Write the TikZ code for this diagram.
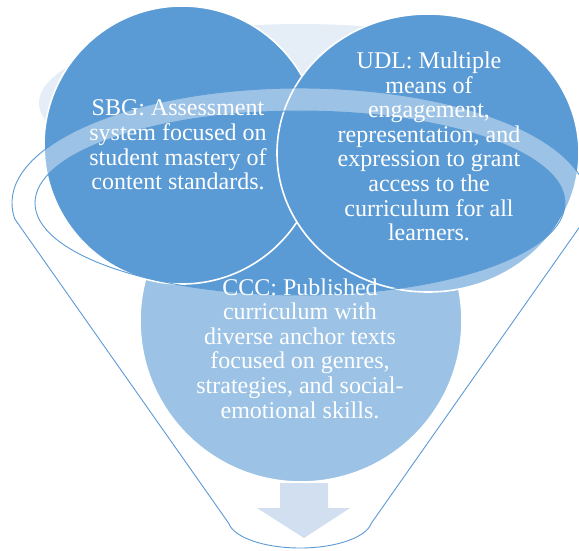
\documentclass[tikz,border=0pt]{standalone}
\usepackage{fontspec}
\usetikzlibrary{shapes.geometric}
\setmainfont{Liberation Serif}
\definecolor{accent}{HTML}{5B9BD5}
\definecolor{pale}{HTML}{E5EDF7}
\definecolor{arrowc}{HTML}{D1DFF0}
\tikzset{
  circ/.style={ellipse, fill=accent, draw=white, line width=1.6pt, inner sep=0pt},
  txt/.style={text=white, align=center, inner sep=0pt, font=\fontsize{24}{24.6}\selectfont},
  rim/.style={draw=accent, line width=0.9pt}
}
\begin{document}
\begin{tikzpicture}[x=1pt,y=1pt]
\useasboundingbox (0,0) rectangle (579,-550);
\clip (0,0) rectangle (579,-550);
% back light ellipse
\fill[pale] (300,-103) ellipse [x radius=261, y radius=79];
% circles
\node[circ, minimum width=322pt, minimum height=322pt] (ccc) at (301,-321) {};
\node[circ, minimum width=276pt, minimum height=278pt] (sbg) at (182,-145) {};
\node[circ, minimum width=302pt, minimum height=278pt] (udl) at (428,-153) {};
% funnel body (lightening veil)
\fill[white, fill opacity=0.4, even odd rule]
  (14.8,-219) arc[start angle=188, end angle=-8, x radius=288, y radius=115]
  -- (371.3,-523.25) arc[start angle=-8, end angle=-172, x radius=72, y radius=28.75]
  -- cycle
  (300,-203) ellipse [x radius=265, y radius=92];
% funnel outlines
\draw[rim] (14.8,-219) arc[start angle=188, end angle=-8, x radius=288, y radius=115]
  -- (371.3,-523.25) arc[start angle=-8, end angle=-172, x radius=72, y radius=28.75]
  -- cycle;
\draw[rim] (300,-203) ellipse [x radius=265, y radius=92];
% arrow
\fill[arrowc] (280,-483) -- (328,-483) -- (328,-508) -- (350,-508) -- (304,-538)
  -- (257,-508) -- (280,-508) -- cycle;
% texts
\node[txt] (sbgt) at (178,-145) {SBG: Assessment\\system focused on\\student mastery of\\content standards.};
\node[txt] (udlt) at (429,-146.5) {UDL: Multiple\\means of\\engagement,\\representation, and\\expression to grant\\access to the\\curriculum for all\\learners.};
\node[txt] (ccct) at (300,-348.5) {CCC: Published\\curriculum with\\diverse anchor texts\\focused on genres,\\strategies, and social-\\emotional skills.};
\end{tikzpicture}
\end{document}
